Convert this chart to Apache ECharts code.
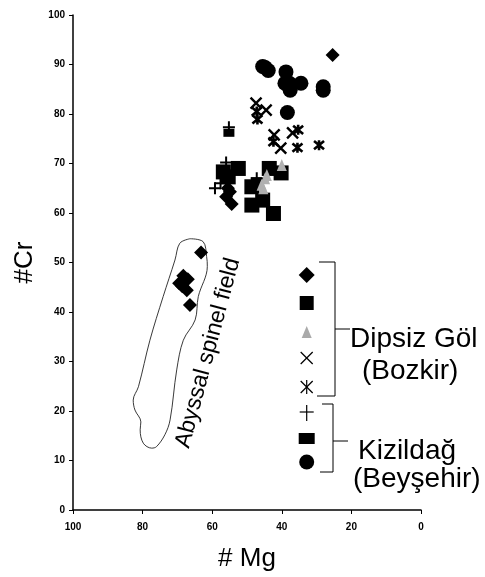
<!DOCTYPE html>
<html>
<head>
<meta charset="utf-8">
<script src="https://cdn.jsdelivr.net/npm/echarts@6/dist/echarts.min.js"></script>
<style>
html,body{margin:0;padding:0;background:#fff;}
#chart{width:485px;height:577px;}
</style>
</head>
<body>
<div id="chart"></div>
<script>
// ---- data (x = #Mg, y = #Cr) ----
var xTicks = [0, 20, 40, 60, 80, 100];
var yTicks = [0, 10, 20, 30, 40, 50, 60, 70, 80, 90, 100];

var dgDiamondX = [25.4, 54.9, 56.0, 54.4, 55.5, 63.2, 68.3, 69.5, 67.3, 67.0, 68.6, 66.4];
var dgDiamondY = [91.9, 64.3, 63.3, 61.8, 65.0, 52.0, 47.3, 45.8, 44.4, 46.6, 45.2, 41.4];

var dgSquareX = [56.8, 52.5, 55.4, 48.6, 45.5, 42.4, 48.6, 43.6, 40.2];
var dgSquareY = [68.3, 69.0, 67.3, 61.6, 62.6, 59.9, 65.3, 69.0, 68.1];

var dgTriangleX = [40.0, 44.8, 45.8, 44.3, 45.3];
var dgTriangleY = [69.7, 67.0, 65.7, 67.7, 65.0];

var dgCrossX = [47.4, 44.5, 42.2, 40.3, 36.9];
var dgCrossY = [82.2, 80.8, 75.8, 73.1, 76.2];

var dgStarX = [47.2, 47.0, 42.4, 35.3, 35.5, 29.3];
var dgStarY = [80.5, 78.9, 74.4, 76.8, 73.2, 73.7];

var kzPlusX = [56.0, 59.2, 57.6, 47.2, 55.2];
var kzPlusY = [70.2, 65.0, 66.0, 67.0, 77.3];

var kzRectX = [55.2, 47.3];
var kzRectY = [76.2, 66.4];

var kzCircleX = [45.5, 44.8, 43.9, 38.8, 39.1, 37.8, 37.6, 34.5, 28.1, 28.1, 38.4];
var kzCircleY = [89.6, 89.4, 88.8, 88.5, 86.2, 86.2, 84.8, 86.2, 85.5, 84.8, 80.3];

// Abyssal spinel field outline
var fieldX = [66.4, 62.6, 61.6, 61.4, 64.0, 64.9, 68.3, 70.2, 72.1, 73.6, 76.0, 77.4, 79.8, 80.7, 80.5, 82.2, 82.7, 81.2, 77.9, 74.1, 70.7, 69.3, 66.4];
var fieldY = [54.8, 54.2, 51.2, 49.2, 43.1, 38.4, 34.3, 28.3, 18.2, 15.2, 12.8, 12.5, 13.5, 16.2, 17.8, 20.2, 22.2, 24.9, 34.3, 43.1, 50.5, 53.9, 54.8];

var groupLabels = ['Dipsiz Göl', '(Bozkir)', 'Kizildağ', '(Beyşehir)'];
var fieldLabel = 'Abyssal spinel field';

function pairs(xs, ys) { return xs.map(function (x, i) { return [x, ys[i]]; }); }

var FONT = '"Liberation Sans", Arial, sans-serif';
var chart = echarts.init(document.getElementById('chart'), null, {renderer: 'canvas'});

var P_CROSS = 'path://M0,0L10,10M10,0L0,10';
var P_STAR = 'path://M0,0L10,10M10,0L0,10M5,-1L5,11';
var P_PLUS = 'path://M5,0L5,10M0,5L10,5';

function lineSym(sym, size, w) {
  return {symbol: sym, symbolSize: size,
    itemStyle: {color: 'rgba(0,0,0,0)', borderColor: '#000', borderWidth: w, opacity: 1}};
}
var solid = {color: '#000', opacity: 1};

var series = [
  {type: 'line', data: pairs(fieldX, fieldY), smooth: 0.35, symbol: 'none',
   lineStyle: {color: '#222', width: 0.9}, silent: true, z: 1},
  Object.assign({type: 'scatter', data: pairs(dgCrossX, dgCrossY)}, lineSym(P_CROSS, 11, 2.4)),
  Object.assign({type: 'scatter', data: pairs(dgStarX, dgStarY)}, lineSym(P_STAR, 10, 2.6)),
  {type: 'scatter', data: pairs(kzCircleX, kzCircleY), symbol: 'circle', symbolSize: 15, itemStyle: solid},
  {type: 'scatter', data: pairs(dgSquareX, dgSquareY), symbol: 'rect', symbolSize: 15, itemStyle: solid},
  {type: 'scatter', data: pairs(kzRectX, kzRectY), symbol: 'rect', symbolSize: [11, 8], itemStyle: solid},
  {type: 'scatter', data: pairs(dgDiamondX, dgDiamondY), symbol: 'diamond', symbolSize: 14, itemStyle: solid},
  {type: 'scatter', data: pairs(dgTriangleX, dgTriangleY), symbol: 'triangle', symbolSize: [10, 12], itemStyle: {color: '#b0b0b0', opacity: 1}},
  Object.assign({type: 'scatter', data: pairs(kzPlusX, kzPlusY)}, lineSym(P_PLUS, 12, 2))
];

var axisCommon = {
  axisTick: {show: true, inside: false, length: 4, lineStyle: {color: '#000', width: 1}},
  splitLine: {show: false},
  axisLabel: {color: '#000', fontSize: 10, fontWeight: 'bold', fontFamily: FONT}
};

// legend / annotation graphics
var g = [];
var lx = 306.7;
function ln(x1, y1, x2, y2, w) { g.push({type: 'line', shape: {x1: x1, y1: y1, x2: x2, y2: y2}, style: {stroke: '#000', lineWidth: w || 1}}); }
g.push({type: 'polygon', shape: {points: [[lx, 267], [lx + 8, 275], [lx, 283], [lx - 8, 275]]}, style: {fill: '#000'}});
g.push({type: 'rect', shape: {x: lx - 7, y: 296, width: 14, height: 14}, style: {fill: '#000'}});
g.push({type: 'polygon', shape: {points: [[lx, 326], [lx + 5, 338], [lx - 5, 338]]}, style: {fill: '#aaa'}});
ln(lx - 6, 352, lx + 6, 364, 1.2); ln(lx + 6, 352, lx - 6, 364, 1.2);
ln(lx - 6, 381, lx + 6, 393, 1.2); ln(lx + 6, 381, lx - 6, 393, 1.2); ln(lx, 380, lx, 394, 1.2);
ln(lx, 405, lx, 421, 1.2); ln(lx - 7, 412, lx + 7, 412, 1.2);
g.push({type: 'rect', shape: {x: lx - 8, y: 433, width: 16, height: 11}, style: {fill: '#000'}});
g.push({type: 'circle', shape: {cx: lx, cy: 462, r: 7.5}, style: {fill: '#000'}});
// brackets
ln(319, 262, 335, 262); ln(335, 262, 335, 396); ln(317, 396, 335, 396); ln(335, 329, 350, 329);
ln(322, 404, 333, 404); ln(333, 404, 333, 472); ln(320, 472, 333, 472); ln(333, 441, 348, 441);
function txt(s, x, y) {
  g.push({type: 'text', x: x, y: y, style: {text: s, fill: '#000', font: '28px ' + FONT, textAlign: 'left', textVerticalAlign: 'alphabetic'}});
}
txt(groupLabels[0], 350, 325);
txt(groupLabels[1], 362, 357);
txt(groupLabels[2], 358, 437);
txt(groupLabels[3], 353, 465);
g.push({type: 'text', x: 208, y: 353, rotation: 75 * Math.PI / 180,
  style: {text: fieldLabel, fill: '#000', font: '23px ' + FONT, textAlign: 'center', textVerticalAlign: 'middle'}});
g.push({type: 'text', x: -1, y: 578, style: {text: 'o', fill: '#000', font: '30px ' + FONT, textAlign: 'left', textVerticalAlign: 'alphabetic'}});

chart.setOption({
  animation: false,
  backgroundColor: '#fff',
  grid: {left: 73, right: 64, top: 15, bottom: 67, containLabel: false},
  xAxis: Object.assign({}, axisCommon, {
    type: 'value', inverse: true, min: 0, max: 100, interval: 20,
    axisLine: {show: true, onZero: false, lineStyle: {color: '#000', width: 1.5}},
    axisLabel: Object.assign({}, axisCommon.axisLabel, {margin: 12}),
    name: '# Mg', nameLocation: 'middle', nameGap: 36,
    nameTextStyle: {color: '#000', fontSize: 26, fontFamily: FONT}
  }),
  yAxis: Object.assign({}, axisCommon, {
    type: 'value', min: 0, max: 100, interval: 10, position: 'left',
    axisLine: {show: true, onZero: false, lineStyle: {color: '#000', width: 1.5}},
    axisLabel: Object.assign({}, axisCommon.axisLabel, {margin: 8}),
    name: '#Cr', nameLocation: 'middle', nameGap: 27, nameRotate: 90,
    nameTextStyle: {color: '#000', fontSize: 26, fontFamily: FONT}
  }),
  series: series,
  graphic: g
});
</script>
</body>
</html>
